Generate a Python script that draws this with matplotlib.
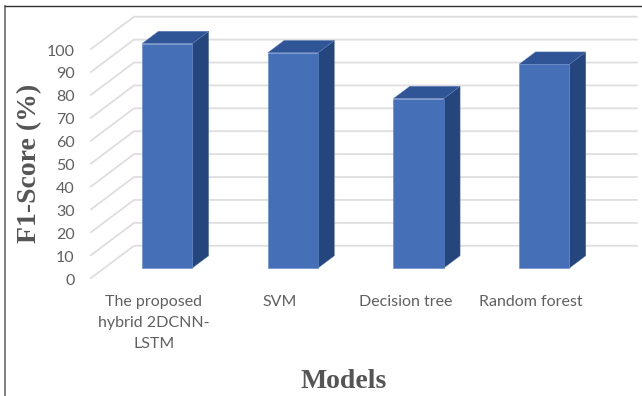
"""F1-score per model, drawn as pseudo 3D columns."""
import matplotlib
matplotlib.use("Agg")
import matplotlib.pyplot as plt
from matplotlib.lines import Line2D
from matplotlib.patches import Polygon

models = ["The proposed\nhybrid 2DCNN-\nLSTM", "SVM", "Decision tree", "Random forest"]
f1_scores = [98, 94, 74, 89]
y_ticks = [0, 10, 20, 30, 40, 50, 60, 70, 80, 90, 100]

# oblique projection: how far the back wall sits from the front plane
depth_x = 0.342
depth_y = 14.1
bar_width = 0.4
bar_front = 0.31
bar_back = 0.69

FRONT = "#4570B8"
TOP = "#2F5596"
SIDE = "#24467C"
GRID = "#DEDEDE"
TEXT = "#606060"
TITLE = "#555555"


def project(x, v, depth):
    return x + depth * depth_x, v + depth * depth_y


def draw_bar(ax, x, value):
    left = x - bar_width / 2
    right = x + bar_width / 2
    front = [project(left, 0, bar_front), project(right, 0, bar_front),
             project(right, value, bar_front), project(left, value, bar_front)]
    side = [project(right, 0, bar_front), project(right, 0, bar_back),
            project(right, value, bar_back), project(right, value, bar_front)]
    top = [project(left, value, bar_front), project(right, value, bar_front),
           project(right, value, bar_back), project(left, value, bar_back)]
    ax.add_patch(Polygon(side, fc=SIDE, ec="#5F7DB5", lw=0.3, zorder=3))
    ax.add_patch(Polygon(top, fc=TOP, ec="#5F7DB5", lw=0.3, zorder=3))
    ax.add_patch(Polygon(front, fc=FRONT, ec="#5F86C8", lw=0.4, zorder=4))


fig = plt.figure(figsize=(6.42, 3.96), dpi=100)
ax = fig.add_axes([0, 0, 1, 1])
ax.set_xlim(-1.224, 3.883)
ax.set_ylim(-51.5, 121.4)
ax.set_axis_off()

for v in y_ticks:
    # floor edge going back, then the line along the back wall
    x0, y0 = project(-0.5, v, 0)
    x1, y1 = project(-0.5, v, 1)
    x2, y2 = project(3.5, v, 1)
    ax.plot([x0, x1, x2], [y0, y1, y2], color=GRID, lw=1.3, zorder=1,
            solid_joinstyle="miter")
    ax.text(-0.63, v - 1.1, str(v), ha="right", va="center", color=TEXT,
            fontsize=11.5, family="Lato")

for i, score in enumerate(f1_scores):
    draw_bar(ax, i, score)

for i, name in enumerate(models):
    ax.text(i, -7.6, name, ha="center", va="top", color=TEXT, fontsize=11.5,
            family="Lato", linespacing=1.62)

ax.text(-0.99, 50, "F1-Score (%)", rotation=90, ha="center", va="center",
        color=TITLE, fontsize=20, fontweight="bold", family="Liberation Serif")
ax.text(1.51, -45, "Models", ha="center", va="center", color=TITLE,
        fontsize=20, fontweight="bold", family="Liberation Serif")

# frame around the chart, only left and top show
fig.add_artist(Line2D([5.5 / 642, 5.5 / 642], [0, 1 - 5.5 / 396], color="#777777", lw=1.3))
fig.add_artist(Line2D([5 / 642, 1], [1 - 5.5 / 396, 1 - 5.5 / 396], color="#333333", lw=1.0))

plt.savefig("out.png", dpi=100)
plt.close(fig)
